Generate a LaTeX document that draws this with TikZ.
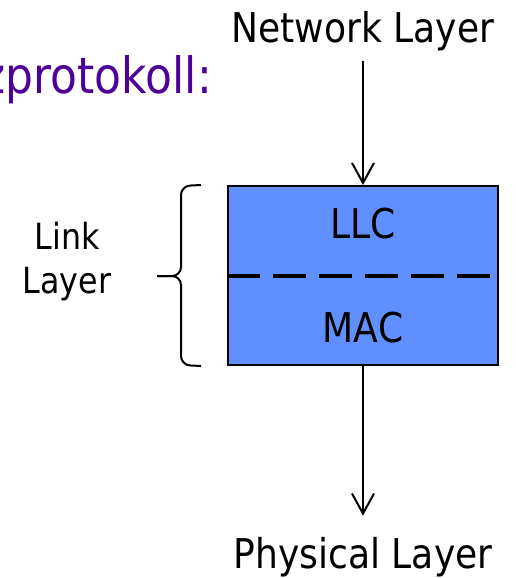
\documentclass[tikz,border=0pt]{standalone}
\usepackage{fontspec}
\setmainfont{DejaVu Sans}[FakeStretch=0.88]
\usepackage{tikz}
\usetikzlibrary{arrows.meta,positioning}
\definecolor{layerblue}{RGB}{96,143,255}
\definecolor{titlepurple}{RGB}{78,0,152}
\begin{document}
\begin{tikzpicture}[x=1pt,y=-1pt,font=\fontsize{41}{49}\selectfont,
  lbl/.style={inner sep=0pt,text=black},
  layerbox/.style={draw,line width=2pt,fill=layerblue,minimum width=270pt,minimum height=179pt,inner sep=0pt},
  arr/.style={-{Straight Barb[length=20pt,width=22pt,line width=2pt]},line width=2pt},
  brc/.style={line width=2pt,rounded corners=9pt}]
\useasboundingbox (0,0) rectangle (516,578);
\begin{scope}
\clip (0,0) rectangle (516,578);
\node[anchor=base east,inner sep=0pt,text=titlepurple,font=\fontsize{50}{60}\selectfont](title) at (212,93){zprotokoll:};
\end{scope}
\node[lbl,anchor=base,inner ysep=9pt](net) at (363,43){Network Layer};
\node[layerbox](box) at (363,275.5){};
\node[lbl,anchor=base](llc) at (363,238){LLC};
\node[lbl,anchor=base](mac) at (363,342){MAC};
\node[lbl,anchor=base,inner ysep=21pt](phy) at (363,568){Physical Layer};
\node[lbl,align=center,font=\fontsize{36}{44}\selectfont](link) at (67,262){Link\\Layer};
\draw[line width=4pt,dash pattern=on 33pt off 13pt](box.west |- 0,276)--(box.east |- 0,276);
\draw[arr](net)--(box);\draw[arr](box)--(phy);
% brace
\path(box.north west)++(-26,0) coordinate(bt) (box.south west)++(-26,0) coordinate(bb) (157,276) coordinate(btip);
\draw[brc](bt)--(181,186)--(181,276)--(btip);
\draw[brc](bb)--(181,365)--(181,276)--(btip);
\end{tikzpicture}
\end{document}
